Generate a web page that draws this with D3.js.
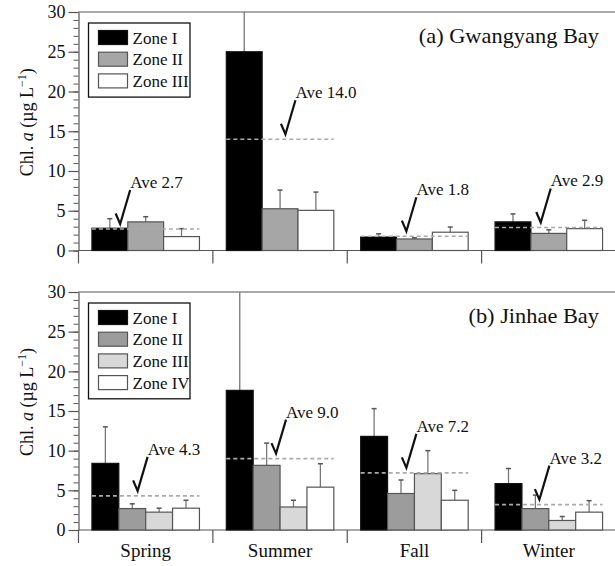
<!DOCTYPE html>
<html>
<head>
<meta charset="utf-8">
<script src="https://cdn.jsdelivr.net/npm/d3@7"></script>
<style>
  body { margin: 0; background: #fff; }
  svg text { font-family: 'Liberation Serif', 'Times New Roman', Times, serif !important; }
</style>
</head>
<body>
<svg width="615" height="566"></svg>
<script>
// ---- data ----
const seasons = ['Spring', 'Summer', 'Fall', 'Winter'];

// (a) Gwangyang Bay
const zonesA = ['Zone I', 'Zone II', 'Zone III'];
const gwangMean = [
  [2.8, 25.0, 1.7, 3.6],    // Zone I
  [3.6, 5.25, 1.45, 2.15],  // Zone II
  [1.75, 5.05, 2.3, 2.75]   // Zone III
];
const gwangSd = [
  [1.2, 8.0, 0.4, 1.0],
  [0.65, 2.35, 0.15, 0.45],
  [1.0, 2.3, 0.65, 1.05]
];
const gwangAve = [2.7, 14.0, 1.8, 2.9];

// (b) Jinhae Bay
const zonesB = ['Zone I', 'Zone II', 'Zone III', 'Zone IV'];
const jinhaeMean = [
  [8.4, 17.6, 11.8, 5.85],
  [2.7, 8.15, 4.6, 2.7],
  [2.25, 2.9, 7.1, 1.2],
  [2.75, 5.4, 3.75, 2.25]
];
const jinhaeSd = [
  [4.6, 13.0, 3.5, 1.9],
  [0.6, 2.8, 1.7, 1.7],
  [0.5, 0.85, 2.9, 0.5],
  [1.0, 2.95, 1.25, 1.45]
];
const jinhaeAve = [4.3, 9.0, 7.2, 3.2];

const yTicks = [0, 5, 10, 15, 20, 25, 30];

const svg = d3.select('svg');
const axisColor = '#555';

// season bands shared by both panels
const x = d3.scaleBand().domain(seasons).range([78.5, 616]);

/* ==================================
Draw one panel
================================== */
function drawPanel(opts) {
  const { top, bottom, zones, mean, sd, ave, fills, title, checkPos, showLabels } = opts;

  const y = d3.scaleLinear().domain([0, 30]).range([bottom, top]);
  const inner = d3.scaleBand()
    .domain(zones)
    .range([x.bandwidth() * 0.1, x.bandwidth() * 0.9]);

  const g = svg.append('g');

  // top frame line
  g.append('line')
    .attr('x1', x.range()[0]).attr('x2', x.range()[1])
    .attr('y1', y(30)).attr('y2', y(30))
    .attr('stroke', axisColor).attr('stroke-width', 1.2);

  // minor ticks
  const minor = g.append('g')
    .attr('transform', `translate(${x.range()[0]},0)`)
    .call(d3.axisLeft(y).tickValues(d3.range(0, 31)).tickSize(5).tickFormat(''));
  minor.select('.domain').remove();
  minor.selectAll('line').attr('stroke', axisColor);

  // major ticks + labels
  const yAxis = g.append('g')
    .attr('transform', `translate(${x.range()[0]},0)`)
    .call(d3.axisLeft(y).tickValues(yTicks).tickSize(10).tickSizeOuter(0).tickPadding(3));
  yAxis.attr('font-family', null);
  yAxis.select('.domain').attr('stroke', axisColor).attr('stroke-width', 1.2);
  yAxis.selectAll('line').attr('stroke', axisColor).attr('stroke-width', 1.2);
  yAxis.selectAll('text')
    .attr('font-size', 18)
    .attr('fill', '#111');

  // x axis line
  g.append('line')
    .attr('x1', x.range()[0]).attr('x2', x.range()[1])
    .attr('y1', y(0)).attr('y2', y(0))
    .attr('stroke', axisColor).attr('stroke-width', 1.2);

  // season boundary ticks
  const bounds = seasons.map((s) => x(s)).concat([x.range()[1]]);
  g.selectAll('.bound')
    .data(bounds)
    .enter()
    .append('line')
    .attr('x1', (d) => d).attr('x2', (d) => d)
    .attr('y1', y(0)).attr('y2', y(0) + 13)
    .attr('stroke', axisColor).attr('stroke-width', 1.2);

  // bars
  zones.forEach((z, zi) => {
    const bars = g.append('g');
    seasons.forEach((s, si) => {
      const bx = x(s) + inner(z);
      const v = mean[zi][si];
      const hi = Math.min(v + sd[zi][si], 30);
      const cx = bx + inner.bandwidth() / 2;
      // error bar (drawn first so bar covers lower part)
      bars.append('line')
        .attr('x1', cx).attr('x2', cx)
        .attr('y1', y(v)).attr('y2', y(hi))
        .attr('stroke', '#777').attr('stroke-width', 1.3);
      if (v + sd[zi][si] <= 30) {
        bars.append('line')
          .attr('x1', cx - 2.5).attr('x2', cx + 2.5)
          .attr('y1', y(hi)).attr('y2', y(hi))
          .attr('stroke', '#555').attr('stroke-width', 1.5);
      }
      bars.append('rect')
        .attr('x', bx)
        .attr('y', y(v))
        .attr('width', inner.bandwidth())
        .attr('height', y(0) - y(v))
        .attr('fill', fills[zi])
        .attr('stroke', zi === 0 ? '#111' : '#555')
        .attr('stroke-width', 1.2);
    });
  });

  // average lines, check marks and labels
  seasons.forEach((s, si) => {
    const ya = y(ave[si]);
    g.append('line')
      .attr('x1', x(s) + inner.range()[0]).attr('x2', x(s) + inner.range()[1])
      .attr('y1', ya).attr('y2', ya)
      .attr('stroke', '#aaa').attr('stroke-width', 1.6)
      .attr('stroke-dasharray', '4,3');

    const cx = x(s) + x.bandwidth() * checkPos[si];
    const cy = ya - 5;
    g.append('path')
      .attr('d', `M${cx - 4.5},${cy - 10.5} L${cx},${cy} L${cx + 10},${cy - 34}`)
      .attr('fill', 'none')
      .attr('stroke', '#111')
      .attr('stroke-width', 2.2)
      .attr('stroke-linejoin', 'miter');
    g.append('text')
      .attr('x', cx + 10)
      .attr('y', cy - 36)
      .attr('font-size', 17)
      .attr('fill', '#111')
      .text('Ave ' + ave[si].toFixed(1));
  });

  // panel title
  g.append('text')
    .attr('transform', `translate(599,${top + 30.5}) scale(1.12,1)`)
    .attr('text-anchor', 'end')
    .attr('font-size', 20)
    .attr('fill', '#111')
    .text(title);

  // legend
  const legTop = top + 11;
  const rowH = 21.7;
  const leg = g.append('g');
  leg.append('rect')
    .attr('x', 88.5).attr('y', legTop)
    .attr('width', 101.5).attr('height', zones.length * rowH + 9)
    .attr('fill', '#fff').attr('stroke', '#111').attr('stroke-width', 1.3);
  zones.forEach((z, zi) => {
    leg.append('rect')
      .attr('x', 98.5).attr('y', legTop + 7.5 + zi * rowH)
      .attr('width', 29).attr('height', 14)
      .attr('fill', fills[zi])
      .attr('stroke', zi === 0 ? '#111' : '#555').attr('stroke-width', 1.2);
    leg.append('text')
      .attr('x', 132.5).attr('y', legTop + 20.5 + zi * rowH)
      .attr('font-size', 17)
      .attr('fill', '#111')
      .text(z);
  });

  // y label
  const mid = (top + bottom) / 2 - 9;
  const yl = g.append('text')
    .attr('transform', `translate(33,${mid}) rotate(-90)`)
    .attr('text-anchor', 'middle')
    .attr('font-size', 18)
    .attr('fill', '#111');
  yl.append('tspan').text('Chl. ');
  yl.append('tspan').attr('font-style', 'italic').text('a');
  yl.append('tspan').text(' (µg L');
  yl.append('tspan').attr('dy', -7).attr('font-size', 12).text('−1');
  yl.append('tspan').attr('dy', 7).text(')');

  // category labels
  if (showLabels) {
    g.selectAll('.cat')
      .data(seasons)
      .enter()
      .append('text')
      .attr('x', (d) => x(d) + x.bandwidth() / 2)
      .attr('y', bottom + 26.5)
      .attr('text-anchor', 'middle')
      .attr('font-size', 19)
      .attr('fill', '#111')
      .text((d) => d);
  }
}

drawPanel({
  top: 12, bottom: 250.5,
  zones: zonesA, mean: gwangMean, sd: gwangSd, ave: gwangAve,
  fills: ['#000', '#a6a6a6', '#fff'],
  title: '(a) Gwangyang Bay',
  checkPos: [0.31, 0.54, 0.44, 0.44],
  showLabels: false
});

drawPanel({
  top: 292, bottom: 530,
  zones: zonesB, mean: jinhaeMean, sd: jinhaeSd, ave: jinhaeAve,
  fills: ['#000', '#9c9c9c', '#d8d8d8', '#fff'],
  title: '(b) Jinhae Bay',
  checkPos: [0.44, 0.47, 0.44, 0.43],
  showLabels: true
});
</script>
</body>
</html>
